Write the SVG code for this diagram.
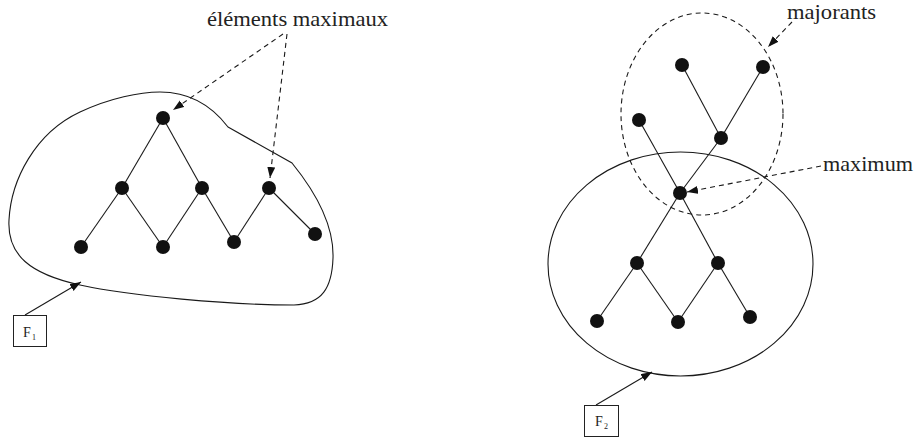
<svg xmlns="http://www.w3.org/2000/svg" width="919" height="437" viewBox="0 0 919 437">
<style>
.ln{stroke:#1a1a1a;stroke-width:1.1;fill:none}
.ds{stroke:#1a1a1a;stroke-width:1.1;fill:none;stroke-dasharray:5 4}
.nd{fill:#111}
.lb{font-family:'Liberation Serif', 'DejaVu Serif', Tinos, Times, serif;font-size:21px;fill:#222}
.bx{fill:#fff;stroke:#222;stroke-width:1}
.ft{font-family:'Liberation Serif', 'DejaVu Serif', Tinos, Times, serif;font-size:14px;fill:#222}
.sb{font-family:'Liberation Serif', 'DejaVu Serif', Tinos, Times, serif;font-size:8px;fill:#222}
</style>
<defs>
<marker id="ah" markerUnits="userSpaceOnUse" markerWidth="12" markerHeight="9" refX="11" refY="4" orient="auto">
<path d="M0,0 L11,4 L0,8 Z" fill="#111"/>
</marker>
</defs>

<g id="F1-set">
<path class="ln" d="M228,127 L292,163 C318,195 334,228 333,258 C332,288 322,304 294,305 C230,305 130,296 80,285 C30,274 7,255 9,220 C11,180 35,133 80,112 C110,98 140,92 160,92 C190,92 212,106 228,127 Z"/>
</g>
<g id="F2-set">
<ellipse class="ln" cx="680.5" cy="264" rx="132.5" ry="112"/>
</g>
<g id="majorants-set">
<ellipse class="ds" cx="702" cy="114" rx="81" ry="101"/>
</g>

<g id="connectors">
<line class="ln" x1="163" y1="118" x2="122" y2="188"/>
<line class="ln" x1="163" y1="118" x2="202" y2="188"/>
<line class="ln" x1="122" y1="188" x2="81" y2="247"/>
<line class="ln" x1="122" y1="188" x2="163" y2="247"/>
<line class="ln" x1="202" y1="188" x2="163" y2="247"/>
<line class="ln" x1="202" y1="188" x2="234" y2="242"/>
<line class="ln" x1="269" y1="188" x2="234" y2="242"/>
<line class="ln" x1="269" y1="188" x2="315" y2="234"/>

<line class="ln" x1="682" y1="65" x2="721" y2="138"/>
<line class="ln" x1="763" y1="67" x2="721" y2="138"/>
<line class="ln" x1="721" y1="138" x2="680" y2="193"/>
<line class="ln" x1="680" y1="193" x2="637" y2="263"/>
<line class="ln" x1="639" y1="120" x2="680" y2="193"/>
<line class="ln" x1="680" y1="193" x2="718" y2="263"/>
<line class="ln" x1="637" y1="263" x2="597" y2="321"/>
<line class="ln" x1="637" y1="263" x2="678" y2="322"/>
<line class="ln" x1="718" y1="263" x2="678" y2="322"/>
<line class="ln" x1="718" y1="263" x2="750" y2="317"/>

<line class="ds" x1="283" y1="34" x2="173" y2="110" marker-end="url(#ah)"/>
<line class="ds" x1="287" y1="34" x2="270" y2="178" marker-end="url(#ah)"/>
<line class="ds" x1="792" y1="22" x2="768" y2="47" marker-end="url(#ah)"/>
<line class="ds" x1="821" y1="166" x2="687" y2="192" marker-end="url(#ah)"/>
<line class="ln" x1="25" y1="315" x2="81" y2="282" marker-end="url(#ah)"/>
<line class="ln" x1="596" y1="405" x2="652" y2="372" marker-end="url(#ah)"/>
</g>

<g id="left-nodes">
<circle class="nd" cx="163" cy="118" r="7"/>
<circle class="nd" cx="122" cy="188" r="7"/>
<circle class="nd" cx="202" cy="188" r="7"/>
<circle class="nd" cx="269" cy="188" r="7"/>
<circle class="nd" cx="81" cy="247" r="7"/>
<circle class="nd" cx="163" cy="247" r="7"/>
<circle class="nd" cx="234" cy="242" r="7"/>
<circle class="nd" cx="315" cy="234" r="7"/>
</g>
<g id="right-nodes">
<circle class="nd" cx="682" cy="65" r="7"/>
<circle class="nd" cx="763" cy="67" r="7"/>
<circle class="nd" cx="639" cy="120" r="7"/>
<circle class="nd" cx="721" cy="138" r="7"/>
<circle class="nd" cx="680" cy="193" r="7"/>
<circle class="nd" cx="637" cy="263" r="7"/>
<circle class="nd" cx="718" cy="263" r="7"/>
<circle class="nd" cx="597" cy="321" r="7"/>
<circle class="nd" cx="678" cy="322" r="7"/>
<circle class="nd" cx="750" cy="317" r="7"/>
</g>

<g id="label-elements-maximaux">
<text class="lb" x="207" y="25.5" textLength="181" lengthAdjust="spacingAndGlyphs">éléments maximaux</text>
</g>
<g id="label-majorants">
<text class="lb" x="787" y="19" textLength="89" lengthAdjust="spacingAndGlyphs">majorants</text>
</g>
<g id="label-maximum">
<text class="lb" x="823" y="170.5" textLength="90" lengthAdjust="spacingAndGlyphs">maximum</text>
</g>
<g id="box-F1">
<rect class="bx" x="13.5" y="315.5" width="33" height="31"/>
<text class="ft" x="23" y="337">F</text><text class="sb" x="32" y="340">1</text>
</g>
<g id="box-F2">
<rect class="bx" x="584.5" y="405.5" width="34" height="31"/>
<text class="ft" x="595" y="426">F</text><text class="sb" x="604" y="429">2</text>
</g>
</svg>
